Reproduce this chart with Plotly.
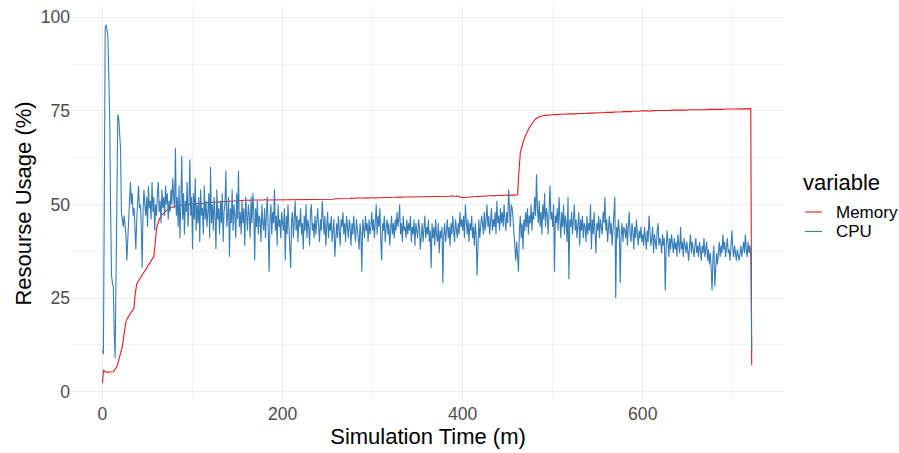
import plotly.graph_objects as go

# Simulation clock, one sample per minute
minutes = list(range(0, 722))

# CPU usage (%) per minute
cpu = (
    [11, 10, 52, 97, 98, 96, 95, 84, 73, 48, 31, 29, 28, 16, 9, 30, 57, 74, 73, 70]
    + [65, 48, 46, 44, 47, 45, 42, 35, 41, 48, 52, 56, 50, 53, 47, 49, 44, 38, 46, 52]
    + [55, 49, 50, 45, 33, 48, 54, 50, 47, 52, 44, 55, 49, 51, 46, 56, 48, 52, 43, 50]
    + [47, 53, 56, 48, 51, 45, 54, 49, 52, 47, 55, 50, 53, 46, 51, 48, 54, 50, 57, 52]
    + [49, 65, 47, 52, 44, 55, 41, 50, 63, 46, 53, 42, 51, 48, 56, 44, 50, 62, 47, 52]
    + [38, 53, 46, 57, 43, 50, 45, 52, 40, 54, 47, 49, 42, 55, 46, 51, 44, 48, 53, 41]
    + [60, 45, 50, 43, 52, 47, 38, 54, 46, 49, 42, 51, 45, 53, 40, 48, 50, 59, 44, 47]
    + [52, 36, 49, 45, 54, 43, 50, 47, 41, 53, 46, 59, 44, 48, 42, 51, 45, 49, 39, 52]
    + [46, 43, 50, 47, 41, 52, 45, 53, 48, 35, 49, 44, 51, 42, 47, 46, 40, 50, 45, 43]
    + [49, 41, 47, 52, 44, 32, 46, 50, 42, 48, 45, 54, 43, 47, 39, 50, 44, 46, 41, 48]
    + [45, 43, 49, 35, 47, 42, 50, 44, 38, 33, 46, 48, 41, 45, 51, 43, 47, 40, 46, 44]
    + [49, 42, 45, 38, 47, 43, 50, 41, 46, 44, 39, 48, 50, 43, 45, 41, 47, 42, 46, 49]
    + [44, 40, 46, 43, 51, 45, 42, 47, 39, 44, 48, 41, 45, 43, 47, 40, 44, 46, 36, 42]
    + [45, 41, 47, 43, 39, 46, 44, 48, 42, 45, 40, 47, 43, 41, 46, 44, 39, 45, 42, 47]
    + [43, 40, 46, 44, 41, 38, 45, 42, 32, 46, 44, 41, 47, 43, 45, 40, 46, 42, 44, 48]
    + [43, 46, 41, 45, 50, 42, 47, 44, 49, 41, 35, 45, 43, 47, 40, 44, 46, 42, 45, 39]
    + [44, 47, 42, 45, 41, 46, 43, 48, 44, 46, 50, 42, 45, 40, 47, 43, 44, 41, 46, 42]
    + [45, 43, 47, 40, 44, 42, 46, 39, 45, 43, 41, 46, 44, 38, 42, 45, 40, 43, 47, 41]
    + [44, 42, 46, 40, 43, 33, 45, 41, 44, 39, 46, 42, 40, 45, 37, 43, 41, 44, 29, 42]
    + [45, 40, 43, 46, 41, 44, 39, 45, 42, 47, 43, 40, 46, 44, 41, 45, 42, 48, 44, 46]
    + [43, 47, 41, 50, 44, 42, 46, 40, 45, 43, 47, 41, 44, 39, 45, 42, 31, 43, 46, 41]
    + [44, 47, 45, 42, 48, 43, 46, 50, 44, 47, 42, 45, 49, 43, 46, 44, 48, 42, 51, 45]
    + [47, 43, 49, 45, 48, 44, 50, 46, 43, 48, 45, 54, 47, 44, 50, 49, 46, 42, 38, 35]
    + [40, 36, 32, 43, 47, 41, 45, 38, 46, 43, 48, 44, 49, 42, 47, 45, 50, 43, 48, 46]
    + [52, 47, 58, 49, 45, 51, 44, 48, 42, 50, 46, 53, 44, 49, 47, 42, 51, 55, 46, 48]
    + [44, 50, 32, 47, 45, 49, 43, 52, 46, 41, 48, 44, 50, 42, 47, 45, 40, 52, 30, 46]
    + [44, 48, 42, 47, 50, 43, 46, 41, 45, 48, 39, 46, 43, 47, 41, 45, 44, 40, 47, 42]
    + [45, 43, 50, 38, 46, 42, 48, 44, 37, 45, 43, 47, 41, 46, 44, 42, 48, 45, 52, 43]
    + [46, 40, 44, 47, 42, 45, 39, 43, 48, 52, 25, 44, 41, 46, 43, 29, 42, 45, 40, 44]
    + [43, 41, 45, 39, 44, 48, 42, 40, 45, 43, 38, 44, 41, 46, 42, 39, 43, 41, 44, 40]
    + [42, 39, 44, 41, 38, 43, 40, 47, 42, 39, 41, 44, 37, 42, 40, 38, 43, 45, 39, 41]
    + [40, 37, 42, 39, 41, 27, 38, 43, 40, 36, 41, 38, 42, 39, 37, 41, 38, 40, 36, 42]
    + [39, 37, 44, 38, 40, 36, 41, 39, 37, 40, 38, 35, 39, 42, 37, 40, 38, 36, 39, 41]
    + [37, 39, 36, 40, 38, 35, 39, 37, 41, 36, 38, 40, 35, 38, 34, 37, 33, 27, 36, 39]
    + [28, 35, 37, 34, 38, 40, 36, 39, 37, 42, 38, 40, 36, 39, 41, 37, 38, 35, 40, 43]
    + [38, 36, 39, 37, 35, 38, 36, 35, 37, 39, 36, 38, 40, 37, 42, 38, 36, 40, 37, 39]
    + [36, 11]
)

# Memory usage (%) per minute
memory = (
    [2.3, 5.8, 5.5, 5.2, 5.2, 5.2, 5.2, 5.2, 5.2, 5.2, 5.2, 5.2, 5.3, 5.6, 6.0, 6.3, 6.8, 7.5, 8.4, 9.3]
    + [10.2, 11.1, 12.0, 13.8, 15.6, 17.2, 18.7, 19.3, 19.8, 20.1, 20.5, 20.9, 21.2, 21.5, 21.8, 22.3, 25.5, 28.0, 28.8, 29.2]
    + [29.6, 30.0, 30.4, 30.8, 31.2, 31.6, 32.0, 32.4, 32.8, 33.2, 33.6, 34.0, 34.4, 34.8, 35.2, 35.5, 35.8, 36.1, 38.5, 42.0]
    + [43.5, 44.6, 45.4, 46.0, 46.5, 46.9, 47.2, 47.5, 47.8, 48.0, 48.2, 48.4, 48.6, 48.8, 48.9, 49.0, 49.1, 49.2, 49.3, 49.4]
    + [49.5, 49.5, 49.6, 49.6, 49.7, 49.7, 49.8, 49.7, 49.8, 49.8, 49.9, 49.8, 49.9, 50.0, 49.9, 50.0, 50.0, 50.1, 50.0, 50.1]
    + [50.1, 50.2, 50.1, 50.2, 50.2, 50.3, 50.2, 50.3, 50.3, 50.2, 50.3, 50.4, 50.3, 50.4, 50.4, 50.3, 50.4, 50.5, 50.4, 50.5]
    + [50.5, 50.4, 50.5, 50.6, 50.5, 50.6, 50.6, 50.5, 50.6, 50.7, 50.6, 50.7, 50.6, 50.7, 50.7, 50.8, 50.7, 50.8, 50.8, 50.7]
    + [50.8, 50.9, 50.8, 50.9, 50.9, 50.8, 50.9, 51.0, 50.9, 51.0, 51.0, 50.9, 51.0, 51.1, 51.0, 51.0, 51.1, 51.0, 51.1, 51.1]
    + [51.0, 51.1, 51.1, 51.2, 51.1, 51.1, 51.2, 51.1, 51.2, 51.2, 51.1, 51.2, 51.2, 51.3, 51.2, 51.2, 51.3, 51.2, 51.2, 51.3]
    + [51.2, 51.3, 51.2, 51.2, 51.3, 51.2, 51.3, 51.2, 51.2, 51.3, 51.2, 51.2, 51.3, 51.2, 51.2, 51.3, 51.2, 51.3, 51.2, 51.2]
    + [51.3, 51.2, 51.2, 51.3, 51.2, 51.3, 51.2, 51.2, 51.3, 51.2, 51.2, 51.3, 51.2, 51.3, 51.3, 51.2, 51.3, 51.2, 51.3, 51.3]
    + [51.2, 51.3, 51.3, 51.2, 51.3, 51.2, 51.3, 51.3, 51.2, 51.3, 51.3, 51.2, 51.3, 51.3, 51.2, 51.3, 51.2, 51.3, 51.3, 51.2]
    + [51.3, 51.3, 51.2, 51.3, 51.3, 51.2, 51.3, 51.3, 51.3, 51.2, 51.3, 51.3, 51.2, 51.3, 51.3, 51.3, 51.3, 51.4, 51.5, 51.5]
    + [51.4, 51.5, 51.5, 51.4, 51.5, 51.5, 51.5, 51.4, 51.5, 51.5, 51.6, 51.5, 51.5, 51.6, 51.5, 51.6, 51.7, 51.6, 51.6, 51.6]
    + [51.7, 51.6, 51.6, 51.7, 51.6, 51.7, 51.7, 51.6, 51.7, 51.7, 51.6, 51.7, 51.8, 51.7, 51.7, 51.8, 51.7, 51.7, 51.8, 51.7]
    + [51.8, 51.8, 51.7, 51.8, 51.7, 51.8, 51.8, 51.7, 51.8, 51.9, 51.8, 51.8, 51.7, 51.8, 51.9, 51.8, 51.8, 51.9, 51.8, 51.8]
    + [51.9, 51.8, 51.9, 51.9, 51.8, 51.9, 51.9, 52.0, 51.9, 51.9, 51.9, 52.0, 51.9, 51.9, 52.0, 51.9, 52.0, 52.0, 51.9, 52.0]
    + [52.0, 52.0, 52.1, 52.0, 52.0, 52.1, 52.0, 52.1, 52.1, 52.0, 52.1, 52.1, 52.0, 52.1, 52.1, 52.2, 52.1, 52.1, 52.0, 52.1]
    + [52.1, 52.2, 52.1, 52.1, 52.2, 52.1, 52.1, 52.2, 52.1, 52.0, 52.1, 52.2, 52.1, 52.1, 52.2, 52.1, 52.2, 52.1, 52.1, 52.2]
    + [52.1, 52.2, 52.1, 52.1, 52.2, 52.1, 52.2, 52.3, 52.2, 52.1, 52.2, 52.2, 52.1, 52.2, 52.3, 52.2, 52.1, 51.9, 51.8, 51.8]
    + [51.9, 51.8, 51.9, 51.8, 51.9, 51.9, 51.9, 52.0, 52.0, 51.9, 52.0, 52.1, 52.0, 52.1, 52.0, 52.1, 52.2, 52.1, 52.1, 52.2]
    + [52.1, 52.2, 52.2, 52.1, 52.2, 52.3, 52.2, 52.2, 52.3, 52.2, 52.3, 52.3, 52.2, 52.3, 52.4, 52.3, 52.3, 52.4, 52.3, 52.4]
    + [52.4, 52.3, 52.4, 52.4, 52.3, 52.4, 52.5, 52.4, 52.4, 52.5, 52.4, 52.5, 52.5, 52.4, 52.5, 52.5, 52.4, 52.5, 52.5, 52.5]
    + [52.5, 52.6, 57.0, 62.4, 63.8, 64.7, 65.8, 66.6, 67.3, 68.0, 68.6, 69.1, 69.6, 70.1, 70.5, 70.9, 71.3, 71.7, 72.0, 72.3]
    + [72.6, 72.8, 73.0, 73.1, 73.3, 73.4, 73.5, 73.6, 73.6, 73.7, 73.7, 73.8, 73.8, 73.7, 73.8, 73.9, 73.8, 73.9, 73.9, 74.0]
    + [73.9, 74.0, 74.0, 73.9, 74.0, 74.1, 74.0, 74.0, 74.1, 74.0, 74.1, 74.1, 74.0, 74.1, 74.2, 74.1, 74.1, 74.2, 74.1, 74.2]
    + [74.2, 74.1, 74.2, 74.2, 74.3, 74.2, 74.2, 74.3, 74.2, 74.3, 74.3, 74.2, 74.3, 74.3, 74.4, 74.3, 74.3, 74.4, 74.3, 74.4]
    + [74.4, 74.3, 74.4, 74.4, 74.5, 74.4, 74.4, 74.5, 74.4, 74.5, 74.5, 74.4, 74.5, 74.5, 74.6, 74.5, 74.5, 74.6, 74.5, 74.6]
    + [74.6, 74.5, 74.6, 74.6, 74.7, 74.6, 74.6, 74.7, 74.6, 74.7, 74.7, 74.6, 74.7, 74.7, 74.8, 74.7, 74.7, 74.8, 74.7, 74.8]
    + [74.8, 74.7, 74.8, 74.8, 74.9, 74.8, 74.8, 74.9, 74.8, 74.9, 74.9, 74.8, 74.9, 74.9, 75.0, 74.9, 74.9, 75.0, 74.9, 75.0]
    + [75.0, 74.9, 75.0, 75.0, 75.1, 75.0, 74.9, 75.0, 75.1, 75.0, 75.0, 75.1, 75.0, 75.1, 75.1, 75.0, 75.1, 75.1, 75.0, 75.1]
    + [75.1, 75.0, 75.1, 75.1, 75.2, 75.1, 75.1, 75.2, 75.1, 75.1, 75.2, 75.1, 75.2, 75.2, 75.1, 75.2, 75.2, 75.1, 75.2, 75.2]
    + [75.1, 75.2, 75.2, 75.3, 75.2, 75.2, 75.3, 75.2, 75.2, 75.3, 75.2, 75.3, 75.3, 75.2, 75.3, 75.3, 75.2, 75.3, 75.3, 75.2]
    + [75.3, 75.3, 75.2, 75.3, 75.3, 75.4, 75.3, 75.3, 75.4, 75.3, 75.3, 75.4, 75.3, 75.4, 75.4, 75.3, 75.4, 75.4, 75.3, 75.4]
    + [75.4, 75.3, 75.4, 75.4, 75.5, 75.4, 75.4, 75.5, 75.4, 75.4, 75.5, 75.4, 75.5, 75.5, 75.4, 75.5, 75.5, 75.4, 75.5, 75.5]
    + [75.5, 75.4, 75.5, 75.5, 75.6, 75.5, 75.5, 75.6, 75.5, 75.5, 75.6, 75.5, 75.6, 75.6, 75.5, 75.6, 75.6, 75.5, 75.6, 75.6]
    + [75.6, 7.1]
)

series_names = ["Memory", "CPU"]
series_colors = ["#E41A1C", "#377EB8"]
legend_title = "variable"
x_title = "Simulation Time (m)"
y_title = "Resourse Usage (%)"

FONT = "Liberation Sans, Arial, sans-serif"
W, H = 899, 453
ML, MR, MT, MB = 71, 114, 6, 52
PW, PH = W - ML - MR, H - MT - MB


def px(x):
    return (x - ML) / PW


def py(y):
    return (H - MB - y) / PH


fig = go.Figure()
for name, vals, col in zip(series_names, [memory, cpu], series_colors):
    fig.add_trace(go.Scatter(
        x=minutes, y=vals, mode="lines", name=name,
        line=dict(color=col, width=1.1), showlegend=False,
    ))

grid_major = "#EBEBEB"
grid_minor = "#F2F2F2"

fig.update_layout(
    width=W, height=H,
    margin=dict(l=ML, r=MR, t=MT, b=MB, autoexpand=False),
    plot_bgcolor="white", paper_bgcolor="white",
    font=dict(family=FONT, color="black"),
    xaxis=dict(
        range=[-35, 758], tick0=0, dtick=200, showgrid=True,
        gridcolor=grid_major, gridwidth=1.4, zeroline=False, showline=False,
        ticks="", tickfont=dict(size=17.6, color="#4D4D4D"),
        minor=dict(dtick=100, showgrid=True, gridcolor=grid_minor, gridwidth=0.8),
        title=dict(text=x_title, font=dict(size=22, color="black"), standoff=6),
        automargin=False,
    ),
    yaxis=dict(
        range=[-2.5, 103], tick0=0, dtick=25, showgrid=True,
        gridcolor=grid_major, gridwidth=1.4, zeroline=False, showline=False,
        ticks="", tickfont=dict(size=17.6, color="#4D4D4D"),
        minor=dict(dtick=12.5, showgrid=True, gridcolor=grid_minor, gridwidth=0.8),
        title=dict(text=y_title, font=dict(size=22, color="black"), standoff=2),
        automargin=False,
    ),
)

# Legend drawn as keys and labels to the right of the panel
fig.add_annotation(x=px(801), y=py(182), xref="paper", yref="paper",
                   text=legend_title, showarrow=False, xanchor="left", yanchor="middle",
                   font=dict(size=22, color="black", family=FONT))
for i, (name, col) in enumerate(zip(series_names, series_colors)):
    yk = 212 + 19.5 * i
    fig.add_shape(type="line", xref="paper", yref="paper",
                  x0=px(805), x1=px(822), y0=py(yk), y1=py(yk),
                  line=dict(color=col, width=1.1))
    fig.add_annotation(x=px(834), y=py(yk), xref="paper", yref="paper",
                       text=name, showarrow=False, xanchor="left", yanchor="middle",
                       font=dict(size=17, color="black", family=FONT))

fig.write_html("out.html")
